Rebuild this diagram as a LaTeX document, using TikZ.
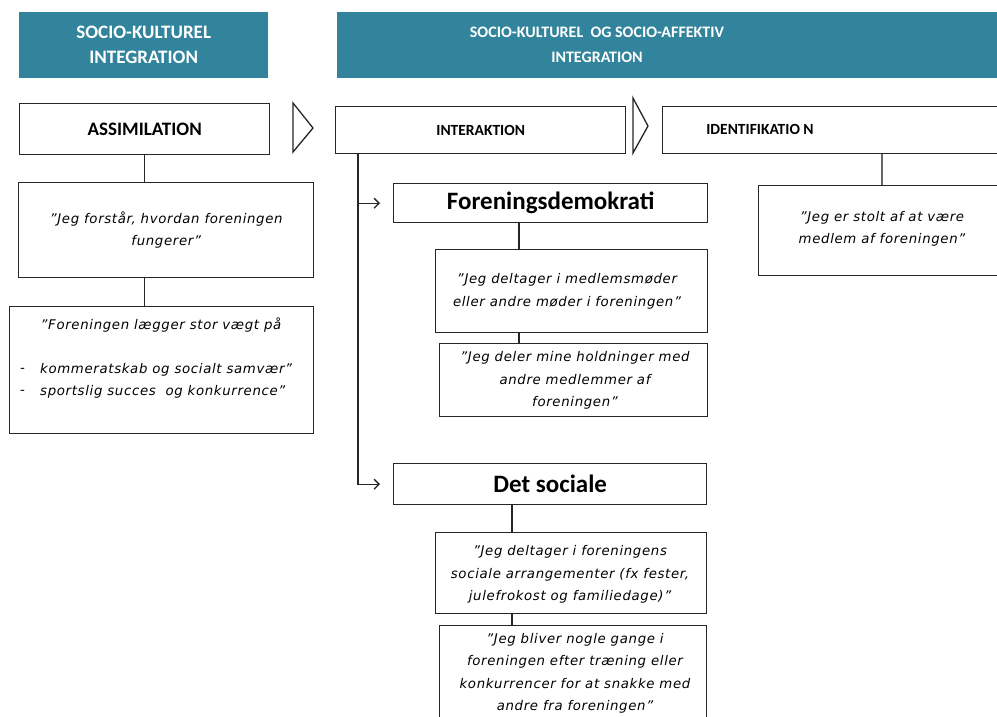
\documentclass[tikz,border=0pt]{standalone}
\usepackage{fontspec}
\setmainfont{Carlito}
\newfontfamily\qfam[LetterSpace=5]{DejaVu Sans}
\usetikzlibrary{arrows.meta}
\definecolor{hdrteal}{HTML}{31849B}
\definecolor{linegray}{HTML}{262626}
\newcommand{\hdrAfont}{\fontsize{19}{25}\selectfont\bfseries}
\newcommand{\hdrBfont}{\fontsize{16}{25}\selectfont\bfseries}
\newcommand{\labfont}{\fontsize{15.5}{18}\selectfont\bfseries}
\newcommand{\labAfont}{\fontsize{19}{22}\selectfont\bfseries}
\newcommand{\bigfont}{\fontsize{25}{28}\selectfont\bfseries}
\newcommand{\qfont}{\qfam\itshape\fontsize{13.3}{22.5}\selectfont}
\begin{document}
\begin{tikzpicture}[x=1pt,y=-1pt,
  box/.style={draw=linegray, line width=1.4pt, fill=white, inner sep=0pt, anchor=north west, align=center},
  hdr/.style={fill=hdrteal, inner sep=0pt, anchor=north west, text=white, align=center},
  qtext/.style={font=\qfont, align=center, text=black, inner sep=0pt},
  conn/.style={line width=1.4pt, draw=linegray},
  arr/.style={line width=1.3pt, draw=linegray, -{Straight Barb[length=5pt,width=10pt]}, shorten >=13pt},
  chev/.style={line width=1.3pt, draw=linegray}]
\useasboundingbox (0,0) rectangle (997,716);
\clip (0,0) rectangle (997,716);
\fill[white] (0,0) rectangle (997,716);

% headers
\node[hdr, font=\hdrAfont, minimum width=249pt, minimum height=66pt] (h1) at (19,12) {SOCIO-KULTUREL\\INTEGRATION};
\node[hdr, minimum width=700pt, minimum height=66pt] (h2) at (337,12) {};
\node[font=\hdrBfont, text=white, align=center, inner sep=0pt] (h2t) at (597,45) {SOCIO-KULTUREL\ \ OG SOCIO-AFFEKTIV\\INTEGRATION};

% stage boxes
\node[box, minimum width=250pt, minimum height=51pt, font=\labAfont] (assim) at (19,103) {ASSIMILATION};
\node[box, minimum width=290pt, minimum height=47pt, font=\labfont] (inter) at (335,106) {INTERAKTION};
\node[box, minimum width=400pt, minimum height=47pt] (ident) at (662,106) {};
\node[font=\labfont, inner sep=0pt] (identt) at (760,129) {IDENTIFIKATIO N};

% chevrons
\draw[chev] (293,103) -- (313,128) -- (293,152) -- cycle;
\draw[chev] (633,98) -- (648,126) -- (633,153) -- cycle;

% left column
\node[box, minimum width=295pt, minimum height=95pt] (b2) at (18,182) {};
\node[qtext] (b2t) at (b2.center) {”Jeg forstår, hvordan foreningen\\fungerer”};
\node[box, minimum width=304pt, minimum height=127pt] (b3) at (9,306) {};
\node[qtext] (b3t1) at (161,325) {”Foreningen lægger stor vægt på};
\node[qtext, anchor=west] (b3d1) at (20,370) {-};
\node[qtext, anchor=west] (b3t2) at (40,370) {kommeratskab og socialt samvær”};
\node[qtext, anchor=west] (b3d2) at (20,392) {-};
\node[qtext, anchor=west] (b3t3) at (40,392) {sportslig succes\ \ og konkurrence”};
\draw[conn] (assim.south) -- (assim.south |- b2.north);
\draw[conn] (assim.south |- b2.south) -- (assim.south |- b3.north);

% middle column
\node[box, minimum width=314pt, minimum height=39pt, font=\bigfont] (fd) at (393,183) {Foreningsdemokrati};
\node[box, minimum width=272pt, minimum height=83pt] (fdq1) at (435,249) {};
\node[qtext] (fdq1t) at (567,291.5) {”Jeg deltager i medlemsmøder\\eller andre møder i foreningen”};
\node[box, minimum width=268pt, minimum height=73pt] (fdq2) at (439,343) {};
\node[qtext] (fdq2t) at (575,380.5) {”Jeg deler mine holdninger med\\andre medlemmer af\\foreningen”};
\node[box, minimum width=313pt, minimum height=41pt, font=\bigfont] (ds) at (393,463) {Det sociale};
\node[box, minimum width=271pt, minimum height=81pt] (dsq1) at (435,532) {};
\node[qtext] (dsq1t) at (570,574.5) {”Jeg deltager i foreningens\\sociale arrangementer (fx fester,\\julefrokost og familiedage)”};
\node[box, minimum width=267pt, minimum height=100pt] (dsq2) at (439,625) {};
\node[qtext] (dsq2t) at (575,673.5) {”Jeg bliver nogle gange i\\foreningen efter træning eller\\konkurrencer for at snakke med\\andre fra foreningen”};

\coordinate (trunk) at (358,153);
\coordinate (cfd) at (519,0);
\coordinate (cds) at (512,0);
\draw[arr] (trunk) |- (fd.west);
\draw[arr] (trunk) |- (ds.west);
\draw[conn] (fd.south -| cfd) -- (fdq1.north -| cfd);
\draw[conn] (fdq1.south -| cfd) -- (fdq2.north -| cfd);
\draw[conn] (ds.south -| cds) -- (dsq1.north -| cds);
\draw[conn] (dsq1.south -| cds) -- (dsq2.north -| cds);

% right column
\node[box, minimum width=400pt, minimum height=90pt] (idq) at (758,185) {};
\node[qtext] (idqt) at (882,229) {”Jeg er stolt af at være\\medlem af foreningen”};
\coordinate (cid) at (882,0);
\draw[conn, draw=linegray!70] (ident.south -| cid) -- (idq.north -| cid);
\end{tikzpicture}
\end{document}
